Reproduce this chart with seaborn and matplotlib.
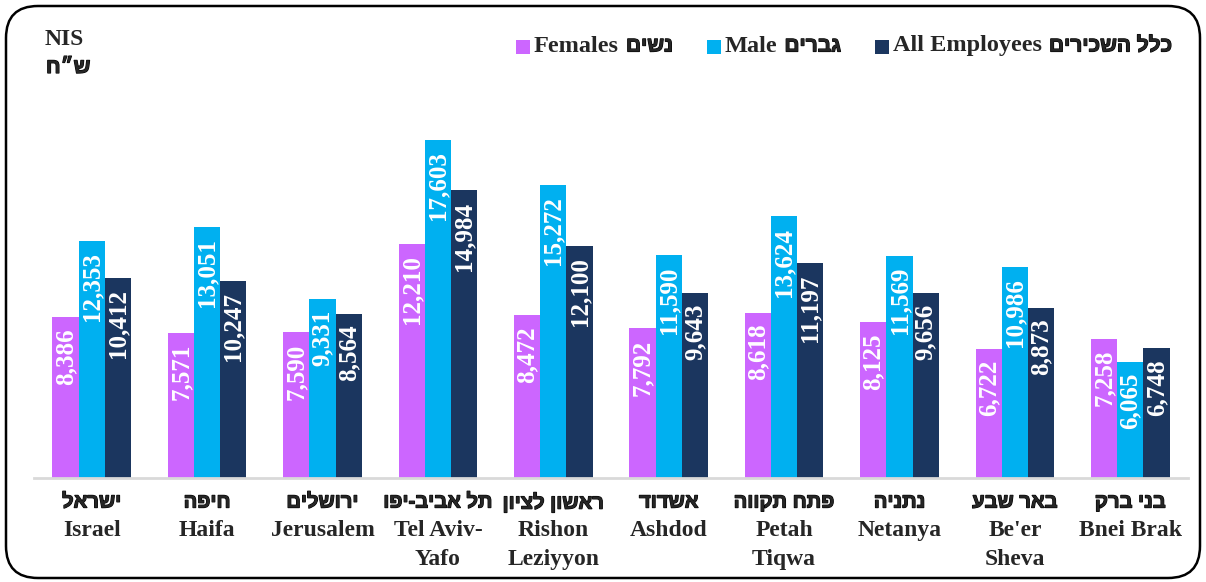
import numpy as np
import pandas as pd
import matplotlib
matplotlib.use("Agg")
import matplotlib.pyplot as plt
import seaborn as sns
from matplotlib.patches import FancyBboxPatch, Rectangle
from matplotlib import font_manager as fm
from matplotlib import patheffects as pe
from matplotlib.ft2font import FT2Font

# ---------------- data ----------------
cities_en = ["Israel", "Haifa", "Jerusalem", "Tel Aviv-\nYafo", "Rishon\nLeziyyon",
             "Ashdod", "Petah\nTiqwa", "Netanya", "Be'er\nSheva", "Bnei Brak"]
cities_he = ["ישראל", "חיפה", "ירושלים", "תל אביב-יפו", "ראשון לציון",
             "אשדוד", "פתח תקווה", "נתניה", "באר שבע", "בני ברק"]
females = [8386, 7571, 7590, 12210, 8472, 7792, 8618, 8125, 6722, 7258]
males = [12353, 13051, 9331, 17603, 15272, 11590, 13624, 11569, 10986, 6065]
all_emp = [10412, 10247, 8564, 14984, 12100, 9643, 11197, 9656, 8873, 6748]
series_en = ["Females", "Male", "All Employees"]
series_he = ["נשים", "גברים", "כלל השכירים"]
unit_en = "NIS"
unit_he = "ש״ח"

colors = ["#CC66FF", "#00B0F0", "#1B365F"]


def rtl(s):
    # matplotlib has no bidi support: reverse Hebrew for visual order
    return s[::-1]


def pick_hebrew_font():
    """Find a sans font that has Hebrew glyphs."""
    for fam in ["Liberation Sans", "Arimo", "DejaVu Sans", "Open Sans", "Noto Sans"]:
        try:
            path = fm.findfont(fm.FontProperties(family=fam, weight="bold"),
                               fallback_to_default=False)
            cmap = FT2Font(path).get_charmap()
            if all(ord(c) in cmap for c in "שלםח"):
                return fam
        except Exception:
            continue
    return "DejaVu Sans"


HEB_FAM = pick_hebrew_font()
# thicken Hebrew strokes to match the heavy bold of the reference
HEB_FX = [pe.withStroke(linewidth=0.85, foreground="black")]
HEB_FAMILY = [HEB_FAM, "DejaVu Sans"]
LAT_FAMILY = ["Liberation Serif", "DejaVu Sans"]

df = pd.DataFrame({
    "city": cities_en * 3,
    "series": [series_en[0]] * 10 + [series_en[1]] * 10 + [series_en[2]] * 10,
    "value": females + males + all_emp,
})

sns.set_theme(style="white")
plt.rcParams["font.family"] = LAT_FAMILY

W, H = 1206, 582
fig = plt.figure(figsize=(W / 100, H / 100), dpi=100)
ax = fig.add_axes([34 / W, (H - 478) / H, (1188 - 34) / W, 384 / H])

sns.barplot(data=df, x="city", y="value", hue="series", order=cities_en,
            hue_order=series_en, palette=colors, width=0.68, saturation=1,
            ax=ax, legend=False, errorbar=None, linewidth=0)

ax.set_ylim(0, 20000)
ax.set_xlim(-0.5, len(cities_en) - 0.5)
ax.set_yticks([])
ax.set_xlabel("")
ax.set_ylabel("")
for s in ["top", "left", "right"]:
    ax.spines[s].set_visible(False)
ax.spines["bottom"].set_color("#D9D9D9")
ax.spines["bottom"].set_linewidth(2)

# bar value labels (inside end, rotated)
for cont in ax.containers:
    for p in cont:
        h = p.get_height()
        ax.annotate(f"{h:,.0f}", xy=(p.get_x() + p.get_width() / 2, h),
                    xytext=(0, -8), textcoords="offset points",
                    ha="center", va="top", rotation=90, color="white",
                    fontsize=18, fontweight="bold", family=LAT_FAMILY)

# category tick labels (English) + Hebrew line above
ax.set_xticks(range(len(cities_en)))
ax.set_xticklabels(cities_en, fontsize=17, fontweight="bold",
                   family=LAT_FAMILY, linespacing=1.5)
ax.tick_params(axis="x", length=0, pad=30)
for i, he in enumerate(cities_he):
    ax.annotate(rtl(he), xy=(i, 0), xycoords=("data", "axes fraction"),
                xytext=(0, -10.5), textcoords="offset points", ha="center", va="top",
                fontsize=14.5, fontweight="bold", family=HEB_FAMILY,
                path_effects=HEB_FX)

# unit label
fig.text(45 / W, 1 - 29 / H, unit_en, ha="left", va="top", fontsize=17,
         fontweight="bold", family=LAT_FAMILY)
fig.text(46 / W, 1 - 58 / H, rtl(unit_he), ha="left", va="top", fontsize=15,
         fontweight="bold", family=HEB_FAMILY, path_effects=HEB_FX)

# legend (built by hand so that English and Hebrew use their own fonts)
fig.canvas.draw()
renderer = fig.canvas.get_renderer()
leg_left, leg_right, leg_y = 516, 1172, H - 46  # pixel coords (y from bottom)
key = 14
items = []
widths = 0
for e, h in zip(series_en, series_he):
    te = fig.text(0, leg_y / H, e, ha="left", va="center", fontsize=17.5,
                  fontweight="bold", family=LAT_FAMILY)
    th = fig.text(0, leg_y / H, rtl(h), ha="left", va="center", fontsize=15,
                  fontweight="bold", family=HEB_FAMILY, path_effects=HEB_FX)
    we = te.get_window_extent(renderer).width
    wh = th.get_window_extent(renderer).width
    items.append((te, th, we, wh))
    widths += key + 4 + we + 7 + wh
gap = (leg_right - leg_left - widths) / (len(items) - 1)
x = leg_left
for (te, th, we, wh), c in zip(items, colors):
    fig.patches.append(Rectangle((x / W, (leg_y - key / 2 - 1) / H), key / W, key / H,
                                 transform=fig.transFigure, facecolor=c,
                                 edgecolor="none"))
    x += key + 4
    te.set_x(x / W)
    x += we + 7
    th.set_x(x / W)
    x += wh + gap

# rounded outer border
border = FancyBboxPatch((0.06, 0.04), W / 100 - 0.12, H / 100 - 0.1,
                        boxstyle="round,pad=0,rounding_size=0.32",
                        transform=fig.dpi_scale_trans, facecolor="none",
                        edgecolor="black", linewidth=1.8, zorder=-1)
fig.patches.append(border)

fig.savefig("out.png", dpi=100)
